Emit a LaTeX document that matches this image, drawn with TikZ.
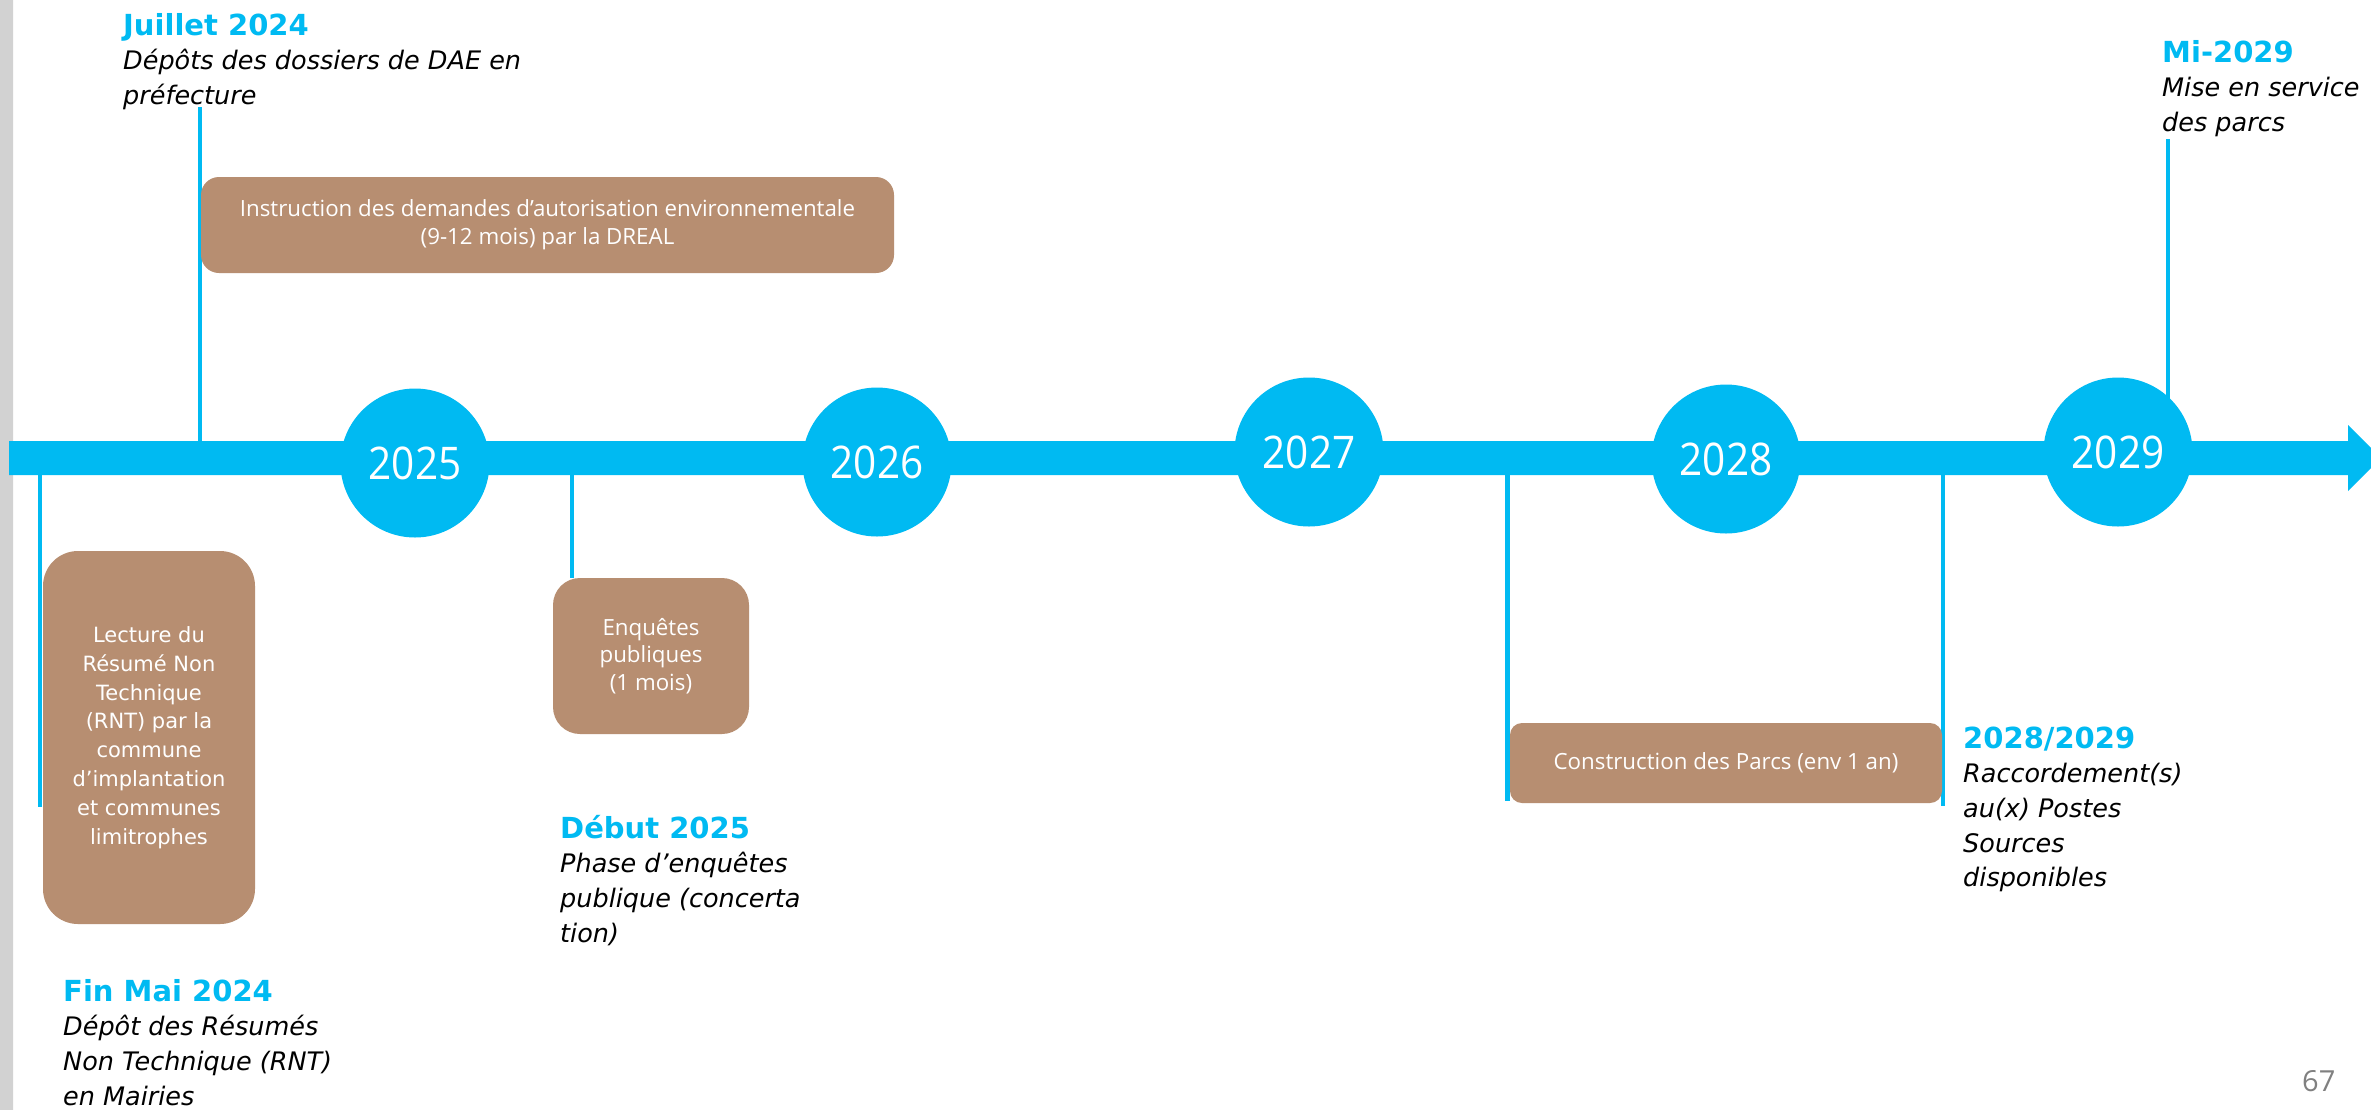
\documentclass[tikz,border=0pt]{standalone}
\usepackage{fontspec}
\newfontfamily\vfont{DejaVu Sans}
\newfontfamily\ofont{Open Sans}
\definecolor{tlblue}{RGB}{0,186,242}
\definecolor{tlbrown}{RGB}{183,142,113}
\definecolor{pgnum}{RGB}{128,128,128}
\begin{document}
\begin{tikzpicture}[x=1pt,y=-1pt,
  brownbox/.style={rectangle, fill=tlbrown, text=white, align=center, inner sep=0pt},
  boxfont/.style={font=\ofont\fontsize{22.3}{28}\selectfont},
  yearcircle/.style={circle, fill=tlblue, text=white, minimum size=149pt, inner sep=0pt,
    font=\ofont\fontsize{45}{50}\selectfont},
  tickline/.style={draw=tlblue, line width=4.5pt},
  datelabel/.style={anchor=base west, align=left, inner sep=0pt,
    font=\vfont\itshape\fontsize{25.5}{34.7}\selectfont},
]
\newcommand\ttl[1]{{\upshape\bfseries\fontsize{29}{34.7}\selectfont\color{tlblue}#1}}
\newcommand\yr[1]{\scalebox{0.9}[1]{#1}}
\path[use as bounding box] (0,0) rectangle (2371,1109);
\clip (0,0) rectangle (2371,1109);
\fill[white] (0,0) rectangle (2371,1109);
\shade[top color=gray!35, middle color=gray!55, bottom color=gray!35] (0,0) rectangle (13,1109);

% connector end points
\coordinate (jtop) at (200,107);
\coordinate (jbar) at (200,450);
\coordinate (fbar) at (40,465);
\coordinate (fbot) at (40,807);
\coordinate (ebar) at (572,465);
\coordinate (c1bar) at (1507.5,465);
\coordinate (c1bot) at (1507.5,801);
\coordinate (c2bar) at (1943,465);
\coordinate (c2bot) at (1943,806);
\coordinate (mtop) at (2168,139);
\coordinate (mbar) at (2168,458);

% vertical connectors
\draw[tickline] (jtop) -- (jbar);
\draw[tickline] (fbar) -- (fbot);
\draw[tickline] (c1bar) -- (c1bot);
\draw[tickline] (c2bar) -- (c2bot);
\draw[tickline] (mtop) -- (mbar);

% timeline arrow
\coordinate (barL) at (9,441);
\coordinate (barR) at (2348,441);
\coordinate (tip) at (2381,458);
\fill[tlblue] (barL) -- (barR) -- (2348,425) -- (tip) -- (2348,491) -- (2348,475) -- (9,475) -- cycle;

% year circles
\node[yearcircle] (y2025) at (415,463) {\yr{2025}};
\node[yearcircle] (y2026) at (877,462) {\yr{2026}};
\node[yearcircle] (y2027) at (1309,452) {\yr{2027}};
\node[yearcircle] (y2028) at (1726,459) {\yr{2028}};
\node[yearcircle] (y2029) at (2118,452) {\yr{2029}};

% boxes
\node[brownbox, boxfont, minimum width=693pt, minimum height=96pt, rounded corners=18pt] (instr) at (547.5,225)
  {Instruction des demandes d’autorisation environnementale\\(9-12 mois) par la DREAL};
\node[brownbox, minimum width=212pt, minimum height=373pt, rounded corners=35pt,
  font=\vfont\fontsize{21}{28.8}\selectfont] (rnt) at (149,737.5)
  {Lecture du\\Résumé Non\\Technique\\(RNT) par la\\commune\\d’implantation\\et communes\\limitrophes};
\node[brownbox, boxfont, minimum width=196pt, minimum height=156pt, rounded corners=27pt,
  font=\ofont\fontsize{22.3}{27.5}\selectfont] (enq) at (651,656)
  {Enquêtes\\publiques\\(1 mois)};
\node[brownbox, boxfont, minimum width=432pt, minimum height=80pt, rounded corners=12pt] (constr) at (1726,763)
  {Construction des Parcs (env 1 an)};

\draw[tickline] (ebar) -- (ebar |- enq.north);

% date labels (anchored at the baseline of their last line)
\node[datelabel] (jul) at (123,104.4) {\ttl{Juillet 2024}\\Dépôts des dossiers de DAE en\\préfecture};
\node[datelabel] (fin) at (63,1105.1) {\ttl{Fin Mai 2024}\\Dépôt des Résumés\\Non Technique (RNT)\\en Mairies};
\node[datelabel] (deb) at (560,942.1) {\ttl{Début 2025}\\Phase d’enquêtes\\publique (concerta\\tion)};
\node[datelabel] (rac) at (1963,886.8) {\ttl{2028/2029}\\Raccordement(s)\\au(x) Postes\\Sources\\disponibles};
\node[datelabel] (mi) at (2162,131.4) {\ttl{Mi-2029}\\Mise en service\\des parcs};

\node[anchor=base west, inner sep=0pt, font=\ofont\fontsize{29}{30}\selectfont, text=pgnum] (pg) at (2302,1091) {67};
\end{tikzpicture}
\end{document}
